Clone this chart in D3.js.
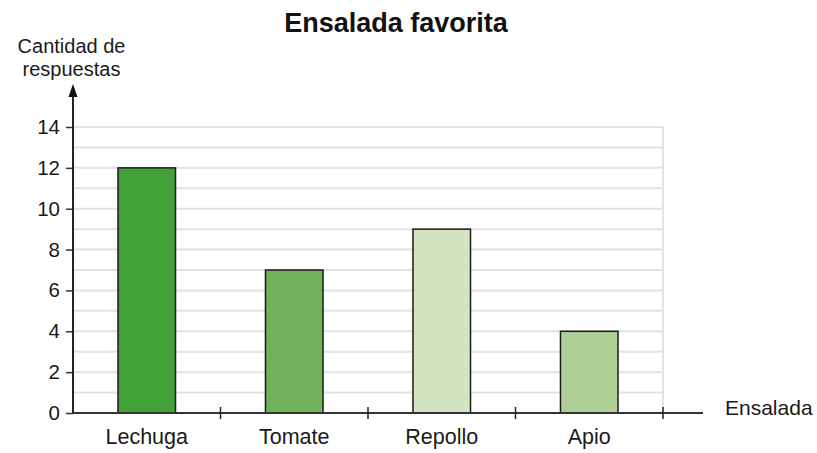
<!DOCTYPE html>
<html><head><meta charset="utf-8">
<script src="https://cdn.jsdelivr.net/npm/d3@7"></script>
<style>body{margin:0;background:#fff}svg{display:block}text{font-family:"Liberation Sans",Arial,sans-serif}</style>
</head><body>
<script>
const categories = ["Lechuga","Tomate","Repollo","Apio"];
const values = [12,7,9,4];
const colors = ["#41a036","#72b25a","#d4e4c3","#aecf96"];
const yTicks = [0,2,4,6,8,10,12,14];
const title = "Ensalada favorita";
const yLabel = ["Cantidad de","respuestas"];
const xLabel = "Ensalada";

const W=817,H=453;
const svg=d3.select("body").append("svg").attr("width",W).attr("height",H);
const x0=73, x1=663, yb=413, yt=127;
const x=d3.scaleBand().domain(categories).range([x0,x1]).paddingInner(0.61).paddingOuter(0.305);
const y=d3.scaleLinear().domain([0,14]).range([yb,yt]);

// grid
const g=svg.append("g");
g.selectAll("line.grid").data(d3.range(1,15)).join("line")
 .attr("x1",x0).attr("x2",x1).attr("y1",d=>y(d)).attr("y2",d=>y(d))
 .attr("stroke","#e2e2e2").attr("stroke-width",2);
g.append("line").attr("x1",x1).attr("x2",x1).attr("y1",y(14)).attr("y2",y(0))
 .attr("stroke","#e2e2e2").attr("stroke-width",2);

// bars
svg.selectAll("rect.bar").data(values).join("rect")
 .attr("x",(d,i)=>x(categories[i])).attr("width",x.bandwidth())
 .attr("y",d=>y(d)).attr("height",d=>y(0)-y(d))
 .attr("fill",(d,i)=>colors[i]).attr("stroke","#1b1b1b").attr("stroke-width",1.5);

// y axis
const yAxis=d3.axisLeft(y).tickValues(yTicks).tickSize(7).tickPadding(6);
const ya=svg.append("g").attr("transform",`translate(${x0},0)`).call(yAxis);
ya.select(".domain").remove();
ya.selectAll(".tick line").attr("stroke","#333").attr("stroke-width",1.5);
ya.selectAll(".tick text").attr("font-size",20.5).attr("fill","#1a1a1a").attr("font-family","Liberation Sans, Arial, sans-serif");
svg.append("line").attr("x1",x0).attr("x2",x0).attr("y1",yb+1).attr("y2",92)
 .attr("stroke","#222").attr("stroke-width",2);
svg.append("path").attr("d",`M${x0},84 L${x0-4.5},97 L${x0+4.5},97 Z`).attr("fill","#111");

// x axis
svg.append("line").attr("x1",x0).attr("x2",703).attr("y1",yb).attr("y2",yb)
 .attr("stroke","#333").attr("stroke-width",2);
const step=x.step();
const bounds=categories.map((c,i)=>x0+step*(i+1));
svg.selectAll("line.xt").data(bounds).join("line")
 .attr("x1",d=>d).attr("x2",d=>d).attr("y1",yb-6).attr("y2",yb+6)
 .attr("stroke","#222").attr("stroke-width",1.5);
svg.selectAll("text.cat").data(categories).join("text")
 .attr("x",d=>x(d)+x.bandwidth()/2).attr("y",444).attr("text-anchor","middle")
 .attr("font-size",21.5).attr("fill","#1a1a1a").text(d=>d);

// labels
svg.append("text").attr("x",396).attr("y",32).attr("text-anchor","middle")
 .attr("font-size",27).attr("font-weight","bold").attr("fill","#111").text(title);
svg.append("text").attr("y",53).attr("text-anchor","middle")
 .attr("font-size",20).attr("fill","#1a1a1a")
 .selectAll("tspan").data(yLabel).join("tspan").attr("x",71.5).attr("dy",(d,i)=>i?22.5:0).text(d=>d);
svg.append("text").attr("x",725).attr("y",415).attr("font-size",21).attr("fill","#1a1a1a").text(xLabel);
</script>
</body></html>
